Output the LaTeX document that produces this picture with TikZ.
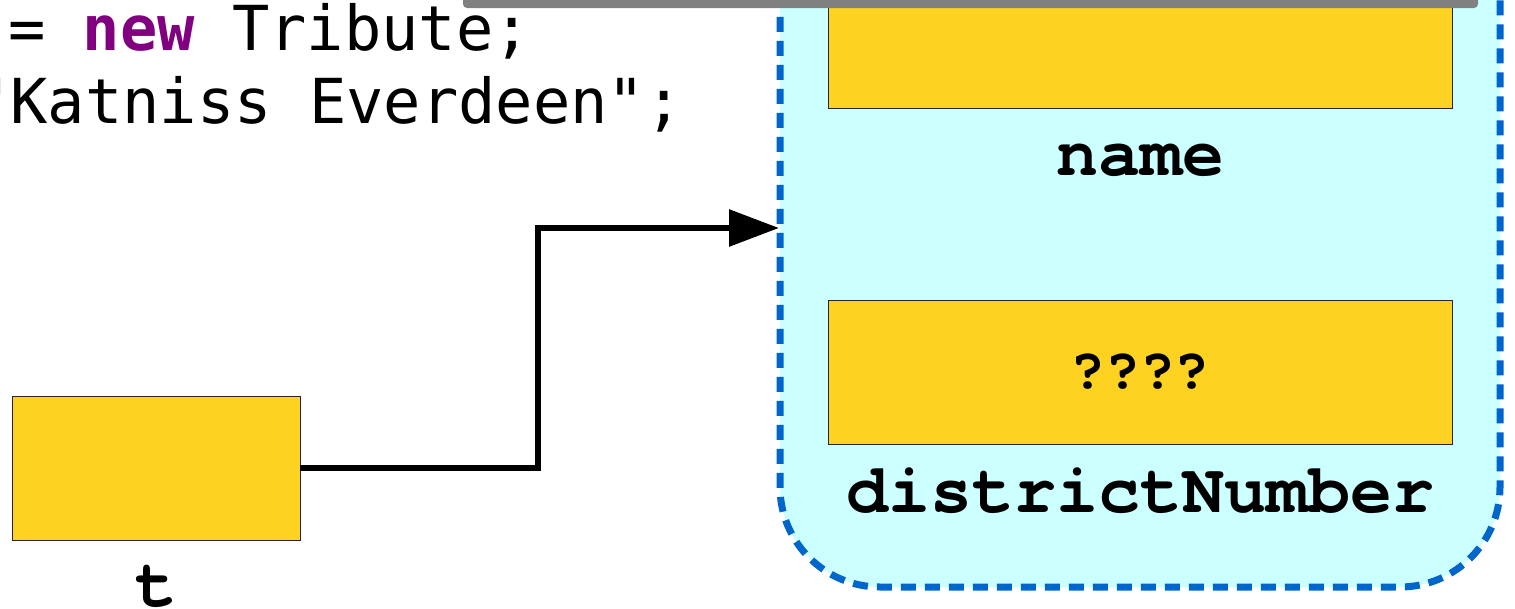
\documentclass[tikz,border=0pt]{standalone}
\usepackage{fontspec}
\usetikzlibrary{arrows.meta}
\newfontfamily\codefont{DejaVu Sans Mono}
\newfontfamily\labfont{TeX Gyre Cursor}
\definecolor{fieldyellow}{RGB}{254,210,32}
\definecolor{objcyan}{RGB}{204,255,255}
\definecolor{objblue}{RGB}{0,102,204}
\definecolor{kwpurple}{RGB}{128,0,128}
\definecolor{bargray}{RGB}{128,128,128}
\tikzset{
  field/.style={draw=black!85, line width=1pt, fill=fieldyellow, inner sep=0pt, outer sep=0pt},
  objbox/.style={draw=objblue, fill=objcyan, line width=7pt, dash pattern=on 15pt off 9pt, rounded corners=100pt, inner sep=0pt, outer sep=0pt},
  code/.style={font=\codefont\fontsize{62}{74}\selectfont, anchor=base west, inner sep=0pt},
  lab/.style={font=\labfont\bfseries\fontsize{70}{80}\selectfont, anchor=base, inner sep=0pt},
  qlab/.style={font=\labfont\bfseries\fontsize{58}{66}\selectfont, anchor=base, inner sep=0pt},
  ptr/.style={draw=black, line width=6pt, -{Triangle[length=50pt,width=36pt]}},
}
\begin{document}
\begin{tikzpicture}[x=1pt,y=-1pt]
\useasboundingbox (0,0) rectangle (1515,608);
\clip (0,0) rectangle (1515,608);
% code text
\node[code] (line1) at (8,50) {= {\bfseries\color{kwpurple}new} Tribute;};
\node[code] (line2) at (-27,123) {"Katniss Everdeen";};
% object box
\node[objbox, minimum width=720pt, minimum height=737pt] (obj) at (1140,218.5) {};
% name field
\node[field, minimum width=624pt, minimum height=208pt] (namef) at (1140,4) {};
\node[lab] (namel) at (1140,175) {name};
% districtNumber field
\node[field, minimum width=624pt, minimum height=144pt] (distf) at (1140,372) {};
\node[qlab] (distv) at (1140,388) {????};
\node[lab] (distl) at (1140,512) {districtNumber};
% variable t
\node[field, minimum width=288pt, minimum height=144pt] (t) at (156,468) {};
\node[lab] (tl) at (156,606) {t};
% gray bar
\fill[bargray, rounded corners=4pt] (463,-30) rectangle (1478,8);
% pointer
\coordinate (tgt) at (779,228);
\draw[ptr] (t.east) -- ++(238,0) |- (tgt);
\end{tikzpicture}
\end{document}
